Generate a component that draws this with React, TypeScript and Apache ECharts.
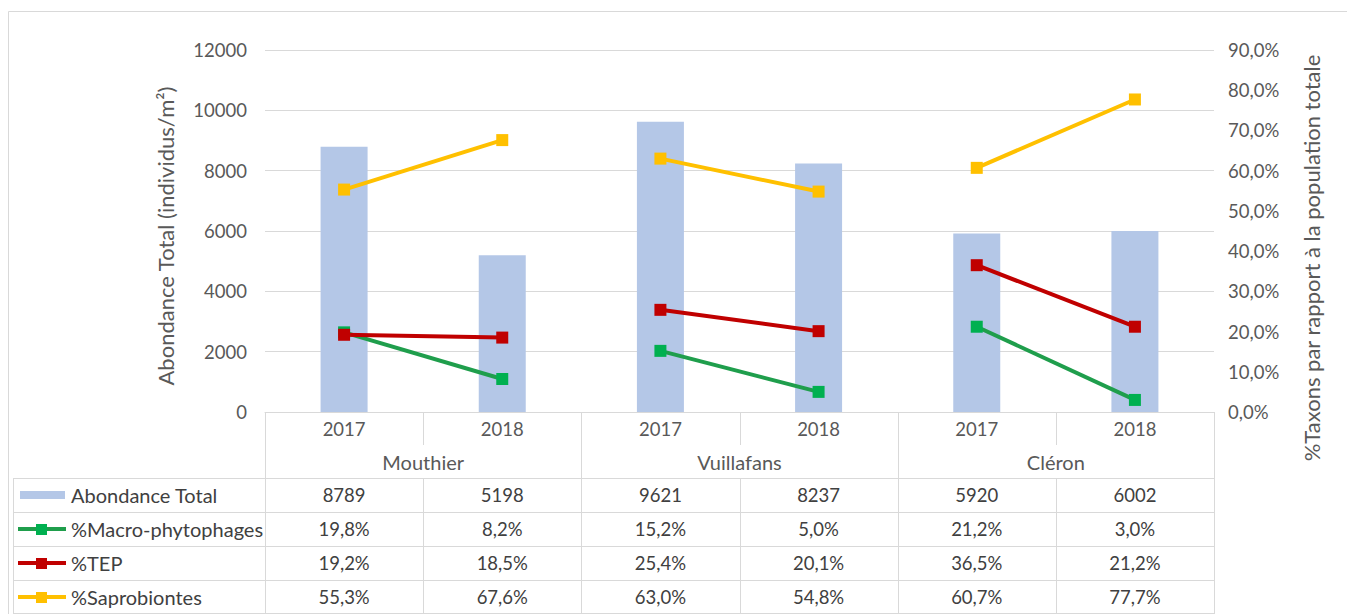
import React, { useEffect, useRef } from "react";
import * as echarts from "echarts";

const sites = ["Mouthier", "Vuillafans", "Cléron"];
const years = ["2017", "2018"];
const abondance = [8789, 5198, 9621, 8237, 5920, 6002];
const macro = [19.8, 8.2, 15.2, 5.0, 21.2, 3.0];
const tep = [19.2, 18.5, 25.4, 20.1, 36.5, 21.2];
const sapro = [55.3, 67.6, 63.0, 54.8, 60.7, 77.7];

const barName = "Abondance Total";
const lineSeries = [
  { name: "%Macro-phytophages", values: macro, color: "#1f9e4c", marker: "#00b050" },
  { name: "%TEP", values: tep, color: "#c00000", marker: "#c00000" },
  { name: "%Saprobiontes", values: sapro, color: "#ffc000", marker: "#ffc000" },
];
const leftTitle = "Abondance Total (individus/m²)";
const rightTitle = "%Taxons par rapport à la population totale";

const FONT = "Lato";
const FS_NUM = 18.5;
const FS_TXT = 20;
const FS_TITLE = 22;
const AXIS_COLOR = "#595959";
const TEXT_COLOR = "#404040";
const GRID_COLOR = "#d9d9d9";
const BAR_COLOR = "#b4c7e7";

const GL = 265, GR = 1214, GT = 50, GB = 412;
const TL = 13, ROW_TOP = 478, ROW_H = 34, BOTTOM = 614;

const pct = (v: number) => v.toFixed(1).replace(".", ",") + "%";

export default function App() {
  const ref = useRef<HTMLDivElement>(null);
  useEffect(() => {
    if (!ref.current) return;
    const chart = echarts.init(ref.current, undefined, { renderer: "svg" });
    const categories = sites.flatMap(() => years);
    const nCat = categories.length;
    const colW = (GR - GL) / nCat;

    const gLine = (x1: number, y1: number, x2: number, y2: number) => ({
      type: "line",
      silent: true,
      shape: { x1, y1, x2, y2 },
      style: { stroke: GRID_COLOR, lineWidth: 1 },
    });

    const graphics: any[] = [];
    graphics.push({
      type: "rect",
      silent: true,
      shape: { x: 8.5, y: 11.5, width: 1400, height: 700 },
      style: { fill: "none", stroke: GRID_COLOR, lineWidth: 1 },
    });
    for (let g = 0; g <= sites.length; g++) {
      const x = Math.round(GL + g * 2 * colW) + 0.5;
      graphics.push(gLine(x, GB, x, BOTTOM));
    }
    for (let g = 0; g < sites.length; g++) {
      const x = Math.round(GL + (2 * g + 1) * colW) + 0.5;
      graphics.push(gLine(x, GB, x, 445));
      graphics.push(gLine(x, ROW_TOP, x, BOTTOM));
      graphics.push({
        type: "text",
        silent: true,
        x: GL + (2 * g + 1) * colW,
        y: 462,
        style: {
          text: sites[g],
          fontFamily: FONT,
          fontSize: FS_TXT,
          fill: AXIS_COLOR,
          align: "center",
          verticalAlign: "middle",
        },
      });
    }
    for (let r = 0; r <= 4; r++) {
      const y = Math.min(ROW_TOP + r * ROW_H, BOTTOM - 1) + 0.5;
      graphics.push(gLine(TL, y, GR + 0.5, y));
    }
    graphics.push(gLine(TL + 0.5, ROW_TOP, TL + 0.5, BOTTOM));

    const rows = [
      { name: barName, values: abondance.map((v) => String(v)), kind: "bar", color: BAR_COLOR, marker: BAR_COLOR },
      ...lineSeries.map((s) => ({ name: s.name, values: s.values.map(pct), kind: "line", color: s.color, marker: s.marker })),
    ];
    rows.forEach((row, r) => {
      const cy = ROW_TOP + r * ROW_H + ROW_H / 2;
      if (row.kind === "bar") {
        graphics.push({
          type: "rect",
          silent: true,
          shape: { x: 20, y: cy - 4, width: 45, height: 8 },
          style: { fill: row.color },
        });
      } else {
        graphics.push({
          type: "line",
          silent: true,
          shape: { x1: 18, y1: cy, x2: 66, y2: cy },
          style: { stroke: row.color, lineWidth: 4 },
        });
        graphics.push({
          type: "rect",
          silent: true,
          shape: { x: 36, y: cy - 5, width: 11, height: 11 },
          style: { fill: row.marker },
        });
      }
      graphics.push({
        type: "text",
        silent: true,
        x: 71,
        y: cy,
        style: {
          text: row.name,
          fontFamily: FONT,
          fontSize: FS_TXT,
          fill: TEXT_COLOR,
          align: "left",
          verticalAlign: "middle",
        },
      });
      row.values.forEach((v, i) => {
        graphics.push({
          type: "text",
          silent: true,
          x: GL + (i + 0.5) * colW,
          y: cy,
          style: {
            text: v,
            fontFamily: FONT,
            fontSize: FS_NUM,
            fill: TEXT_COLOR,
            align: "center",
            verticalAlign: "middle",
          },
        });
      });
    });
    graphics.push({
      type: "text",
      silent: true,
      x: 165,
      y: 236,
      rotation: Math.PI / 2,
      style: {
        text: leftTitle,
        fontFamily: FONT,
        fontSize: FS_TITLE,
        fill: AXIS_COLOR,
        align: "center",
        verticalAlign: "middle",
      },
    });
    graphics.push({
      type: "text",
      silent: true,
      x: 1311,
      y: 258,
      rotation: Math.PI / 2,
      style: {
        text: rightTitle,
        fontFamily: FONT,
        fontSize: FS_TITLE,
        fill: AXIS_COLOR,
        align: "center",
        verticalAlign: "middle",
      },
    });

    const series: any[] = [
      {
        name: barName,
        type: "bar",
        data: abondance,
        barWidth: 47,
        itemStyle: { color: BAR_COLOR },
        z: 1,
      },
    ];
    lineSeries.forEach((s) => {
      sites.forEach((_, si) => {
        series.push({
          name: s.name,
          type: "line",
          yAxisIndex: 1,
          data: s.values.map((v, i) => (Math.floor(i / years.length) === si ? v : "-")),
          connectNulls: false,
          symbol: "rect",
          symbolSize: 12,
          showSymbol: true,
          lineStyle: { color: s.color, width: 4 },
          itemStyle: { color: s.marker },
          z: 3,
        });
      });
    });

    chart.setOption({
      animation: false,
      backgroundColor: "#ffffff",
      textStyle: { fontFamily: FONT },
      grid: { left: GL, right: 1347 - GR, top: GT, bottom: 614 - GB, containLabel: false },
      xAxis: {
        type: "category",
        data: categories,
        axisLine: { show: true, lineStyle: { color: GRID_COLOR, width: 1 } },
        axisTick: { show: false },
        axisLabel: { color: AXIS_COLOR, fontSize: FS_NUM, fontFamily: FONT, margin: 7, interval: 0 },
      },
      yAxis: [
        {
          type: "value",
          min: 0,
          max: 12000,
          interval: 2000,
          axisLine: { show: false },
          axisTick: { show: false },
          splitLine: { show: true, lineStyle: { color: GRID_COLOR, width: 1 } },
          axisLabel: {
            color: AXIS_COLOR,
            fontSize: FS_NUM,
            fontFamily: FONT,
            margin: 18,
            formatter: (v: number) => String(v),
          },
        },
        {
          type: "value",
          min: 0,
          max: 90,
          interval: 10,
          position: "right",
          axisLine: { show: false },
          axisTick: { show: false },
          splitLine: { show: false },
          axisLabel: { color: AXIS_COLOR, fontSize: FS_NUM, fontFamily: FONT, margin: 14, formatter: (v: number) => pct(v) },
        },
      ],
      series,
      graphic: graphics,
    });
    return () => chart.dispose();
  }, []);
  return (
    <div
      ref={ref}
      style={{ position: "absolute", left: 0, top: 0, width: 1347, height: 614, background: "#fff" }}
    />
  );
}
